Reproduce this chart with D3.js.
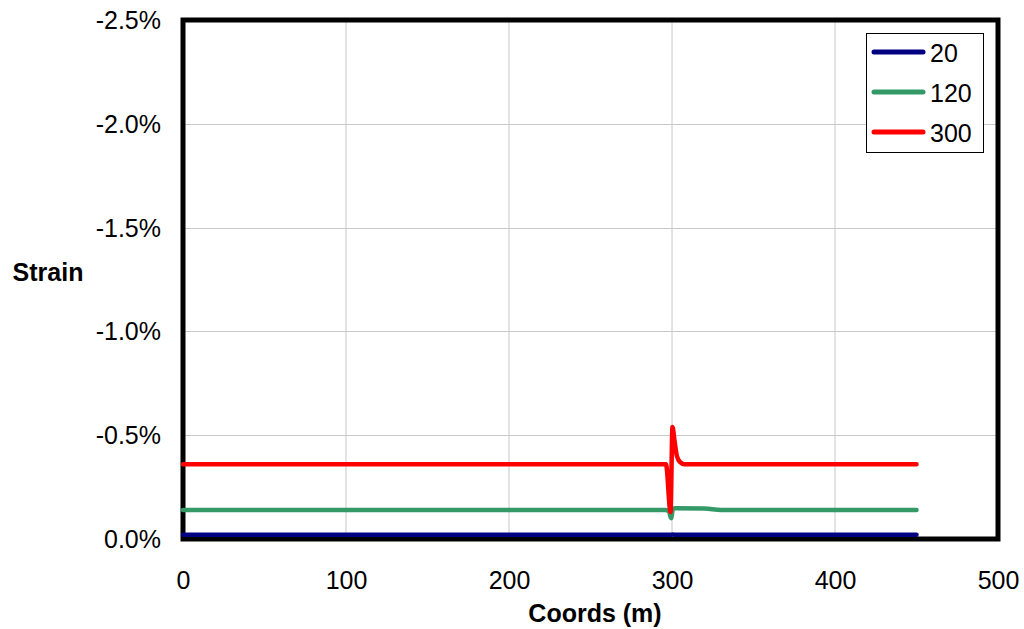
<!DOCTYPE html>
<html>
<head>
<meta charset="utf-8">
<script src="https://cdn.jsdelivr.net/npm/d3@7"></script>
<style>
  html, body { margin: 0; padding: 0; background: #fff; }
  svg { display: block; font-family: "Liberation Sans", Arial, sans-serif; }
</style>
</head>
<body>
<svg id="chart" width="1024" height="629"></svg>
<script>
// Strain along the pipe for three time steps
const seriesNames = ["20", "120", "300"];
const seriesColors = ["#000080", "#339966", "#ff0000"];

// Coordinate (m) and strain (fraction) pairs for each series
const coords20 = [0, 296, 299, 300.5, 302, 450];
const strain20 = [-0.0002, -0.0002, -0.0002, -0.00022, -0.0002, -0.0002];

const coords120 = [0, 296, 298.2, 299.4, 300.6, 302, 320, 330, 450];
const strain120 = [-0.0014, -0.0014, -0.00132, -0.001, -0.00145, -0.00148, -0.00147, -0.0014, -0.0014];

const coords300 = [0, 296.3, 299.1, 300.3, 301.6, 303, 305, 307.5, 450];
const strain300 = [-0.0036, -0.0036, -0.0013, -0.0054, -0.0047, -0.0040, -0.0037, -0.0036, -0.0036];

const xTicks = [0, 100, 200, 300, 400, 500];
const yTicks = [0, -0.005, -0.01, -0.015, -0.02, -0.025];

const seriesCoords = [coords20, coords120, coords300];
const seriesStrain = [strain20, strain120, strain300];

const svg = d3.select("#chart");
const x = d3.scaleLinear().domain([0, 500]).range([183, 998]);
const y = d3.scaleLinear().domain([0, -0.025]).range([539, 20]);

const loc = d3.formatLocale({decimal: ".", thousands: ",", grouping: [3], currency: ["", ""], minus: "-"});
const pct = loc.format(".1%");

// Gridlines
svg.append("g")
  .selectAll("line.vx")
  .data(xTicks.slice(1, -1))
  .join("line")
  .attr("x1", d => x(d)).attr("x2", d => x(d))
  .attr("y1", y(0)).attr("y2", y(-0.025))
  .attr("stroke", "#c8c8c8").attr("stroke-width", 1);

svg.append("g")
  .selectAll("line.hy")
  .data(yTicks.slice(1, -1))
  .join("line")
  .attr("x1", x(0)).attr("x2", x(500))
  .attr("y1", d => Math.round(y(d)) + 0.5).attr("y2", d => Math.round(y(d)) + 0.5)
  .attr("stroke", "#c8c8c8").attr("stroke-width", 1);

// Axes (labels only)
const yAxis = svg.append("g")
  .attr("transform", `translate(${x(0)},0)`)
  .call(d3.axisLeft(y).tickValues(yTicks).tickFormat(pct).tickSize(0).tickPadding(22));
yAxis.select(".domain").remove();
yAxis.selectAll("text")
  .attr("font-size", 25).attr("fill", "#000")
  .attr("font-family", "Liberation Sans, Arial, sans-serif")
  .attr("dy", "0.34em");

const xAxis = svg.append("g")
  .attr("transform", `translate(0,${y(0)})`)
  .call(d3.axisBottom(x).tickValues(xTicks).tickFormat(d3.format("d")).tickSize(0).tickPadding(32));
xAxis.select(".domain").remove();
xAxis.selectAll("text")
  .attr("font-size", 25).attr("fill", "#000")
  .attr("font-family", "Liberation Sans, Arial, sans-serif");

// Plot frame
svg.append("rect")
  .attr("x", x(0)).attr("y", y(-0.025))
  .attr("width", x(500) - x(0)).attr("height", y(0) - y(-0.025))
  .attr("fill", "none").attr("stroke", "#000").attr("stroke-width", 5);

// Series lines
const line = d3.line()
  .x(d => x(d[0]))
  .y(d => y(d[1]))
  .curve(d3.curveMonotoneX);

seriesNames.forEach((name, i) => {
  const pts = seriesCoords[i].map((c, j) => [c, seriesStrain[i][j]]);
  svg.append("path")
    .datum(pts)
    .attr("d", line)
    .attr("fill", "none")
    .attr("stroke", seriesColors[i])
    .attr("stroke-width", 4.5)
    .attr("stroke-linejoin", "round")
    .attr("stroke-linecap", "round");
});

// Axis titles
svg.append("text")
  .attr("x", 595).attr("y", 622)
  .attr("text-anchor", "middle")
  .attr("font-size", 25).attr("font-weight", "bold")
  .text("Coords (m)");

svg.append("text")
  .attr("x", 48).attr("y", 281)
  .attr("text-anchor", "middle")
  .attr("font-size", 25).attr("font-weight", "bold")
  .text("Strain");

// Legend
const legend = svg.append("g");
legend.append("rect")
  .attr("x", 866.5).attr("y", 33.5)
  .attr("width", 117).attr("height", 119)
  .attr("fill", "#fff").attr("stroke", "#000").attr("stroke-width", 1);

seriesNames.forEach((name, i) => {
  const ly = 52 + i * 40;
  legend.append("line")
    .attr("x1", 874).attr("x2", 923)
    .attr("y1", ly).attr("y2", ly)
    .attr("stroke", seriesColors[i]).attr("stroke-width", 5)
    .attr("stroke-linecap", "round");
  legend.append("text")
    .attr("x", 930).attr("y", ly + 10)
    .attr("font-size", 25)
    .text(name);
});
</script>
</body>
</html>
